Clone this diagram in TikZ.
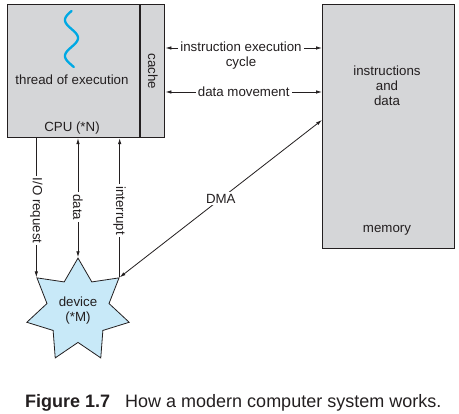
\documentclass[tikz,border=0pt]{standalone}
\usepackage{fontspec}
\setmainfont{Liberation Sans}
\usetikzlibrary{shapes.geometric,arrows.meta}
\definecolor{ink}{RGB}{35,31,32}
\definecolor{boxgray}{RGB}{213,214,216}
\definecolor{devblue}{RGB}{200,233,248}
\definecolor{wavecyan}{RGB}{0,169,228}
\newcommand{\lblfont}{\fontsize{13.3}{15}\selectfont}
\newcommand{\capfont}{\fontsize{18}{21}\selectfont}
\tikzset{
  unit/.style={draw=ink, line width=1.2pt, fill=boxgray, inner sep=0pt, anchor=north west},
  link/.style={draw=ink, line width=0.8pt},
  tip/.style={-{Latex[length=6pt,width=3.5pt]}},
  twotip/.style={{Latex[length=6pt,width=3.5pt]}-{Latex[length=6pt,width=3.5pt]}},
  txt/.style={text=ink, font=\lblfont, align=center, inner sep=1pt},
  lbl/.style={txt, fill=white, inner sep=2pt},
}
\begin{document}
\begin{tikzpicture}[x=1pt,y=-1pt]
\useasboundingbox (0,0) rectangle (459,414);
% processor and memory
\node[unit, minimum width=132pt, minimum height=133pt] (cpu) at (7,4) {};
\node[unit, minimum width=24pt, minimum height=133pt] (cache) at (cpu.north east) {};
\node[unit, minimum width=132pt, minimum height=244pt] (mem) at (322,4) {};
\draw[wavecyan, line width=2.3pt, line cap=round]
   plot[domain=-90:470, samples=80] ({71.5-6.5*cos(\x)},{20+0.1*\x});
\node[txt] (thread) at (72,80) {thread of execution};
\node[txt] (cpulbl) at (72,128) {CPU (*N)};
\node[txt, rotate=-90] (cachelbl) at (cache.center) {cache};
\node[txt] (memtxt) at (387,86) {instructions\\and\\data};
\node[txt] (memlbl) at (387,230) {memory};
% device
\node[star, star points=7, star point ratio=1.65, minimum size=105pt, inner sep=0pt,
      draw=ink, line width=0.8pt, fill=devblue, txt] (dev) at (78,310.6) {device\\(*M)};
\coordinate (ioend) at (dev.outer point 2);
\coordinate (dataend) at (dev.outer point 1);
\coordinate (intend) at (dev.outer point 7);
\coordinate (iostart) at (cpu.south -| ioend);
\coordinate (datastart) at (cpu.south -| dataend);
\coordinate (intstart) at (cpu.south -| intend);
\coordinate (cycleL) at (cache.east |- 0,48);
\coordinate (cycleR) at (mem.west |- 0,48);
\coordinate (moveL) at (cache.east |- 0,92);
\coordinate (moveR) at (mem.west |- 0,92);
\coordinate (dmaend) at (mem.west |- 0,120);
% connectors
\draw[link, twotip] (cycleL) -- (cycleR);
\node[lbl] (cyclelbl) at (241,55.5) {instruction execution\\cycle};
\draw[link, twotip] (moveL) -- node[lbl] (movelbl) {data movement} (moveR);
\draw[link, tip] (iostart) -- node[lbl, rotate=-90, pos=0.52] (iolbl) {I/O request} (ioend);
\draw[link, twotip] (datastart) -- node[lbl, rotate=-90, pos=0.58] (datalbl) {data} (dataend);
\draw[link, tip] (intend) -- node[lbl, rotate=-90, pos=0.48] (intlbl) {interrupt} (intstart);
\draw[link, twotip] (dmaend) -- node[lbl] (dmalbl) {DMA} (intend);
% caption
\node[anchor=west, text=ink, font=\capfont, inner sep=0pt] (caption) at (25,403)
   {\textbf{Figure 1.7}\hspace{15pt}How a modern computer system works.};
\end{tikzpicture}
\end{document}
